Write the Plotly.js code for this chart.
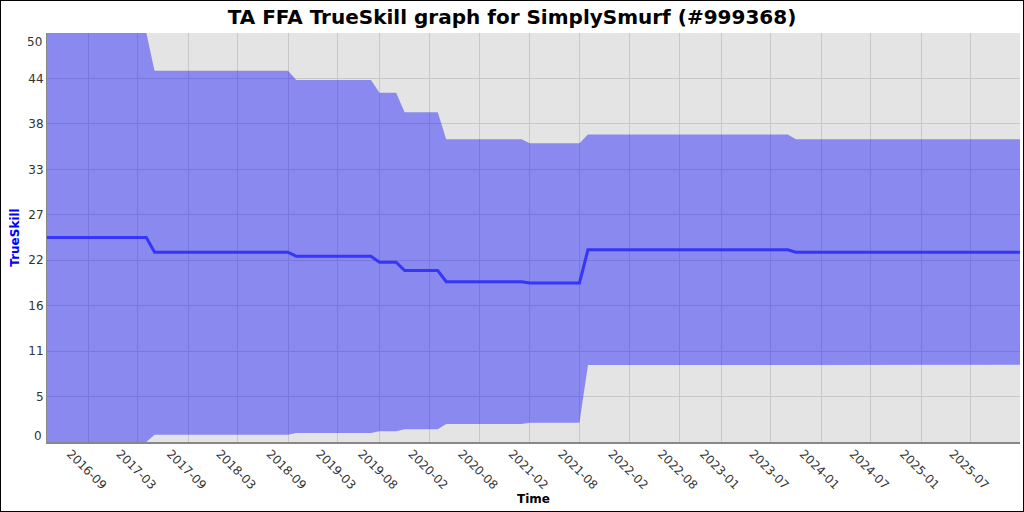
<!DOCTYPE html>
<html>
<head>
<meta charset="utf-8">
<script src="https://cdn.plot.ly/plotly-3.0.1.min.js"></script>
<style>
  html, body { margin: 0; padding: 0; background: #fff; }
  #wrap { position: relative; width: 1024px; height: 512px; }
  #chart { width: 1024px; height: 512px; }
  #frame { position: absolute; left: 0; top: 0; width: 1024px; height: 512px; box-sizing: border-box; border: 1px solid #000; pointer-events: none; }
</style>
</head>
<body>
<div id="wrap"><div id="chart"></div><div id="frame"></div></div>
<script>
// Data
const dates = ['2016-04-03','2017-04-01','2017-05-01','2018-09-01','2018-10-01','2019-07-01','2019-08-01','2019-10-01','2019-11-01','2020-03-01','2020-04-01','2021-01-01','2021-02-01','2021-08-01','2021-09-01','2023-09-01','2023-10-01','2025-12-28'];
const mu    = [25, 25, 23.2, 23.2, 22.7, 22.7, 21.97, 21.97, 20.97, 20.97, 19.6, 19.6, 19.44, 19.44, 23.5, 23.5, 23.2, 23.2];
const upper = [50, 50, 45.4, 45.4, 44.25, 44.25, 42.7, 42.7, 40.3, 40.3, 37.0, 37.0, 36.52, 36.52, 37.6, 37.6, 37.0, 37.0];
const lower = [0, 0, 0.9, 0.9, 1.1, 1.1, 1.3, 1.3, 1.55, 1.55, 2.2, 2.2, 2.36, 2.36, 9.4, 9.4, 9.43, 9.43];

const xTickVals = ['2016-09-01','2017-03-01','2017-09-01','2018-03-01','2018-09-01','2019-03-01','2019-08-01','2020-02-01','2020-08-01','2021-02-01','2021-08-01','2022-02-01','2022-08-01','2023-01-01','2023-07-01','2024-01-01','2024-07-01','2025-01-01','2025-07-01'];
const xTickText = ['2016-09','2017-03','2017-09','2018-03','2018-09','2019-03','2019-08','2020-02','2020-08','2021-02','2021-08','2022-02','2022-08','2023-01','2023-07','2024-01','2024-07','2025-01','2025-07'];
const yTickVals = [0, 5.5556, 11.1111, 16.6667, 22.2222, 27.7778, 33.3333, 38.8889, 44.4444, 50];
const yTickText = ['0','5','11','16','22','27','33','38','44','50'];

// Edge labels (0 and 50) are drawn nudged inward, as in the reference
const last = yTickVals.length - 1;
const axisTickText = yTickText.map((t, i) => (i === 0 || i === last) ? '' : t);

const traces = [
  { x: dates, y: lower, type: 'scatter', mode: 'lines', line: { width: 0, color: 'rgba(0,0,255,0)' }, hoverinfo: 'skip', showlegend: false },
  { x: dates, y: upper, type: 'scatter', mode: 'lines', fill: 'tonexty', fillcolor: 'rgba(0,0,255,0.4)', line: { width: 0, color: 'rgba(0,0,255,0)' }, hoverinfo: 'skip', showlegend: false },
  { x: dates, y: mu, type: 'scatter', mode: 'lines', line: { width: 3, color: 'rgba(40,40,250,0.85)' }, showlegend: false }
];

const edgeLabel = (i, shift) => ({
  xref: 'paper', yref: 'y', x: 0, y: yTickVals[i], text: yTickText[i],
  xanchor: 'right', yanchor: 'middle', xshift: -3, yshift: shift, showarrow: false,
  font: { family: 'DejaVu Sans', size: 12, color: '#333' }
});

const layout = {
  width: 1024, height: 512,
  margin: { l: 47, r: 4, t: 33, b: 70 },
  paper_bgcolor: '#ffffff',
  plot_bgcolor: '#e4e4e4',
  font: { family: 'DejaVu Sans', size: 12, color: '#333' },
  title: { text: '<b>TA FFA TrueSkill graph for SimplySmurf (#999368)</b>', font: { family: 'DejaVu Sans', size: 20, color: '#000' }, x: 0.5, xanchor: 'center', y: 17, yref: 'container', yanchor: 'middle' },
  xaxis: {
    type: 'date',
    range: [dates[0], dates[dates.length - 1]],
    tickvals: xTickVals, ticktext: xTickText,
    tickangle: 45, ticklabelshift: -18, ticklabelstandoff: -2,
    showgrid: true, gridcolor: '#c8c8c8', gridwidth: 1,
    showline: true, linecolor: '#888', linewidth: 2,
    zeroline: false, ticks: '',
    tickfont: { family: 'DejaVu Sans', size: 12, color: '#333' },
    title: { text: '<b>Time</b>', font: { family: 'DejaVu Sans', size: 12, color: '#000' }, standoff: 0 }
  },
  yaxis: {
    range: [0, 50],
    tickvals: yTickVals, ticktext: axisTickText,
    showgrid: true, gridcolor: '#c8c8c8', gridwidth: 1,
    showline: true, linecolor: '#888', linewidth: 1,
    zeroline: false, ticks: '',
    tickfont: { family: 'DejaVu Sans', size: 12, color: '#333' },
    title: { text: '<b>TrueSkill</b>', font: { family: 'DejaVu Sans', size: 12, color: '#0000ff' }, standoff: 6 }
  },
  annotations: [edgeLabel(0, 6), edgeLabel(last, -9)],
  showlegend: false
};

Plotly.newPlot('chart', traces, layout, { staticPlot: true, displayModeBar: false });
</script>
</body>
</html>
